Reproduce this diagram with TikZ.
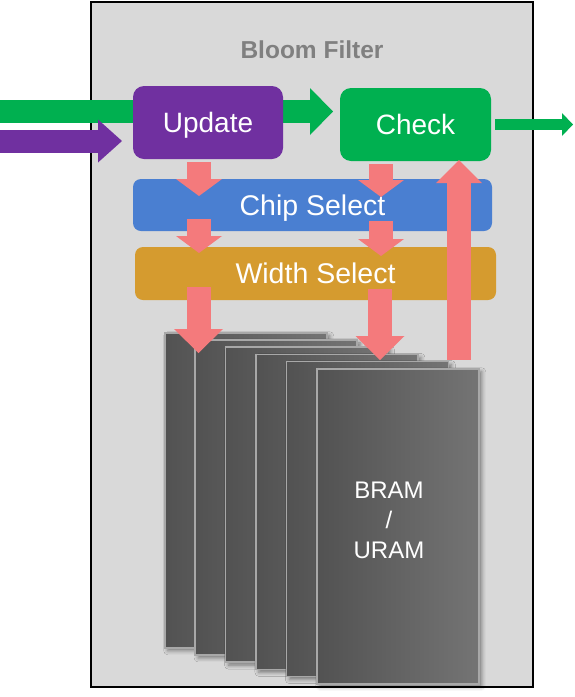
\documentclass[tikz,border=0pt]{standalone}
\usepackage{fontspec}
\setmainfont{Liberation Sans}
\usetikzlibrary{arrows.meta,shadows.blur}
\definecolor{bgc}{HTML}{D9D9D9}
\definecolor{titlec}{HTML}{808080}
\definecolor{purp}{HTML}{7030A0}
\definecolor{grn}{HTML}{00B050}
\definecolor{blu}{HTML}{4A7FD1}
\definecolor{org}{HTML}{D59B2F}
\definecolor{pnk}{HTML}{F47A7C}
\definecolor{raml}{HTML}{525252}
\definecolor{ramr}{HTML}{747474}
\definecolor{ramb}{HTML}{A8A8A8}
\tikzset{
  blockbox/.style={inner sep=0pt, text=white, text depth=0pt},
  ctrlbox/.style={blockbox, text height=20pt, rounded corners=11pt, font=\fontsize{28}{33}\selectfont},
  selbar/.style={blockbox, text height=20.4pt, rounded corners=8pt, font=\fontsize{28.5}{33}\selectfont},
  ramchip/.style={draw=ramb, line width=1.5pt, left color=raml, right color=ramr,
    minimum width=162pt, minimum height=315pt, anchor=north west, inner sep=0pt,
    blur shadow={shadow xshift=3pt, shadow yshift=-3pt, shadow blur radius=4pt, shadow opacity=45}},
  pinkarrow/.style={draw=pnk, line width=24pt, -{Triangle[width=46pt,length=17pt,line width=0pt]}},
  pinkbig/.style={draw=pnk, line width=24pt, -{Triangle[width=49pt,length=24pt,line width=0pt]}},
}
\begin{document}
\begin{tikzpicture}[x=1pt,y=-1pt]
\useasboundingbox (0,0) rectangle (574,697);
% outer box
\node[draw=black, line width=2pt, fill=bgc, minimum width=442pt, minimum height=685pt,
  anchor=north west, inner sep=0pt] (bf) at (90,1) {};
\node[font=\bfseries\fontsize{24.5}{29}\selectfont, text=titlec] (title) at (312,50) {Bloom Filter};
% input arrows
\coordinate (gin) at (0,111.5);
\coordinate (gtip) at (333,111.5);
\coordinate (pin) at (0,141);
\coordinate (ptip) at (122,141);
\draw[draw=grn, line width=23pt, -{Triangle[width=47pt,length=23pt,line width=0pt]}] (gin) -- (gtip);
\draw[draw=purp, line width=23pt, -{Triangle[width=43pt,length=24pt,line width=0pt]}] (pin) -- (ptip);
% control boxes
\node[ctrlbox, fill=purp, minimum width=150pt, minimum height=73pt] (upd) at (208,122.5) {Update};
\node[ctrlbox, fill=grn, minimum width=151pt, minimum height=73pt] (chk) at (415.5,124.5) {Check};
% output arrow
\coordinate (gout) at (495,124.5);
\coordinate (gend) at (573,124.5);
\draw[draw=grn, line width=11pt, -{Triangle[width=23pt,length=11pt,line width=0pt]}] (gout) -- (gend);
% select bars
\node[selbar, fill=blu, minimum width=359pt, minimum height=52pt] (chip) at (312.5,205) {Chip Select};
\node[selbar, fill=org, minimum width=361pt, minimum height=53pt] (wid) at (315.5,273.5) {Width Select};
% memory chips
\foreach \i in {0,...,5}{
  \node[ramchip] (ram\i) at ({164+30.4*\i},{332+7.2*\i}) {};
}
\node[font=\fontsize{24}{30}\selectfont, text=white, align=center] (ramtxt) at (389,520) {BRAM\\/\\URAM};
% pink arrows
\coordinate (a1s) at (199,162);   \coordinate (a1e) at (199,196);
\coordinate (a2s) at (381,164);   \coordinate (a2e) at (381,197);
\coordinate (a3s) at (199,219);   \coordinate (a3e) at (199,253);
\coordinate (a4s) at (381,221);   \coordinate (a4e) at (381,256);
\coordinate (a5s) at (198.5,287); \coordinate (a5e) at (198.5,353);
\coordinate (a6s) at (380,289);   \coordinate (a6e) at (380,360);
\coordinate (ups) at (459,360);   \coordinate (upe) at (459,160);
\draw[pinkarrow] (a1s) -- (a1e);
\draw[pinkarrow] (a2s) -- (a2e);
\draw[pinkarrow] (a3s) -- (a3e);
\draw[pinkarrow] (a4s) -- (a4e);
\draw[pinkbig] (a5s) -- (a5e);
\draw[pinkbig] (a6s) -- (a6e);
\draw[draw=pnk, line width=24pt, -{Triangle[width=46pt,length=23pt,line width=0pt]}] (ups) -- (upe);
\end{tikzpicture}
\end{document}
